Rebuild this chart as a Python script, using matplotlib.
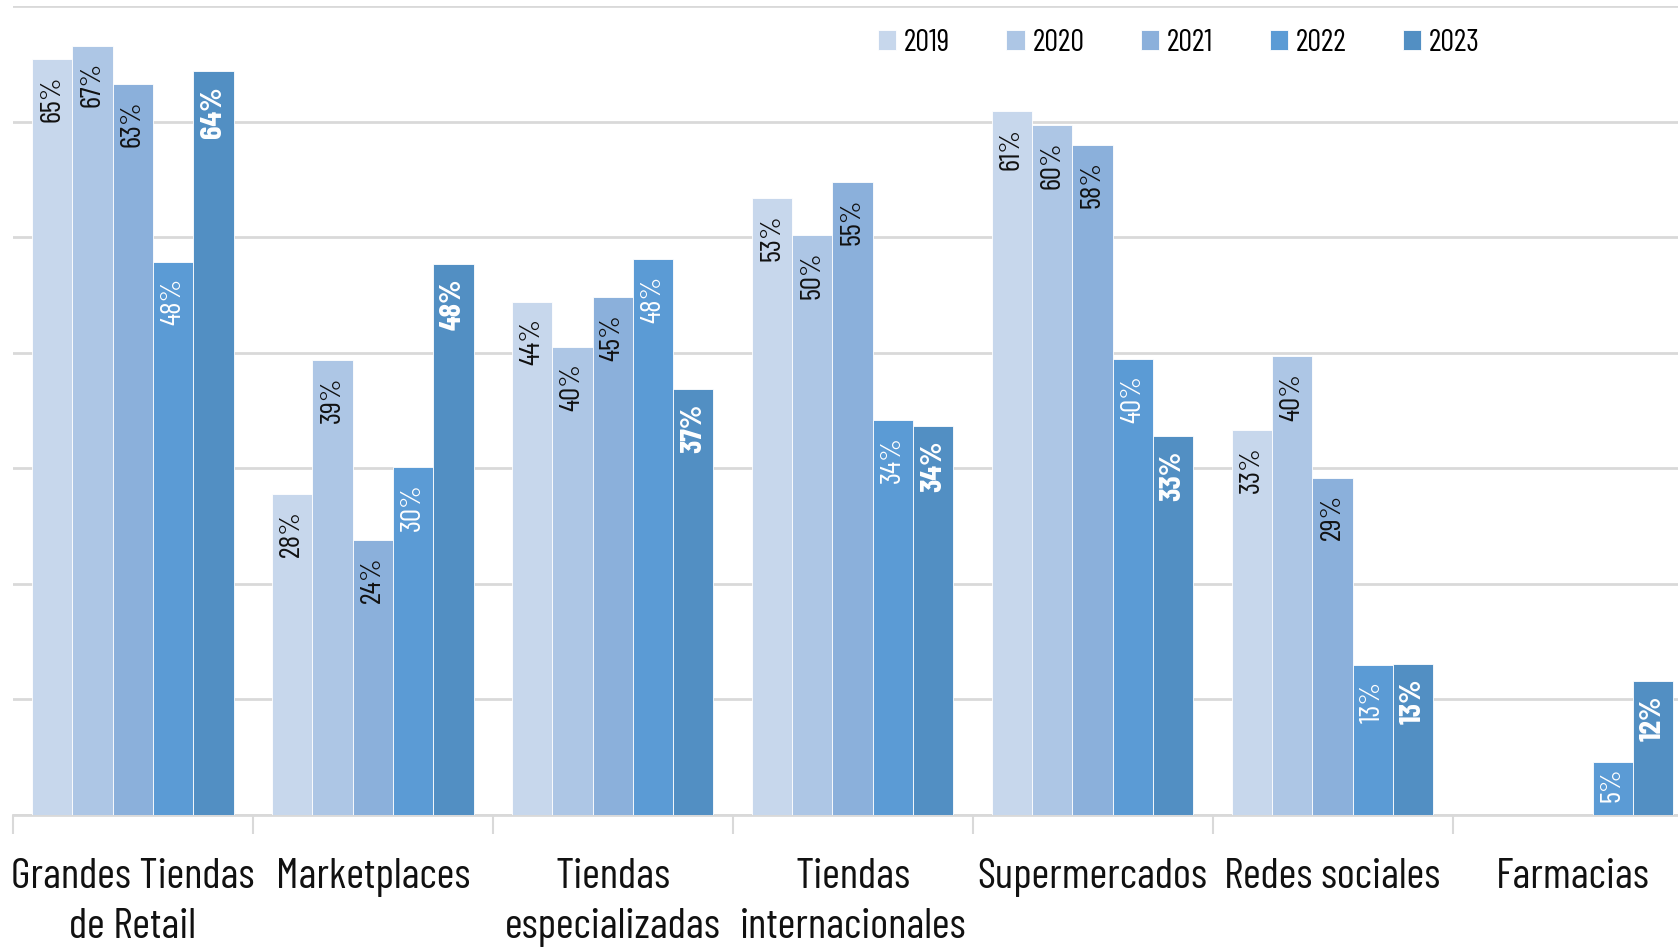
import matplotlib
matplotlib.use("Agg")
import matplotlib.pyplot as plt
import numpy as np

plt.rcParams['font.family'] = ['Barlow Condensed', 'DejaVu Sans']

categories = ['Grandes Tiendas\nde Retail', 'Marketplaces', 'Tiendas\nespecializadas',
              'Tiendas\ninternacionales', 'Supermercados', 'Redes sociales', 'Farmacias']
years = ['2019', '2020', '2021', '2022', '2023']

v2019 = [65.4, 27.8, 44.4, 53.4, 60.9, 33.3, 0]
v2020 = [66.6, 39.4, 40.5, 50.2, 59.7, 39.7, 0]
v2021 = [63.3, 23.8, 44.8, 54.8, 58.0, 29.2, 0]
v2022 = [47.9, 30.1, 48.1, 34.2, 39.5, 13.0, 4.6]
v2023 = [64.4, 47.7, 36.9, 33.7, 32.8, 13.1, 11.6]

l2019 = ['65%', '28%', '44%', '53%', '61%', '33%', '']
l2020 = ['67%', '39%', '40%', '50%', '60%', '40%', '']
l2021 = ['63%', '24%', '45%', '55%', '58%', '29%', '']
l2022 = ['48%', '30%', '48%', '34%', '40%', '13%', '5%']
l2023 = ['64%', '48%', '37%', '34%', '33%', '13%', '12%']

series = [v2019, v2020, v2021, v2022, v2023]
labels = [l2019, l2020, l2021, l2022, l2023]
colors = ['#C7D7EC', '#ADC6E5', '#8BB0DB', '#5B9BD5', '#528FC3']

fig = plt.figure(figsize=(16.78, 9.48), dpi=100)
ax = fig.add_axes([0.00763, 0.1403, 1.001, 0.853])

x = np.arange(len(categories))
w = 0.168
for i, (vals, labs) in enumerate(zip(series, labels)):
    pos = x + (i - 2) * w
    ax.bar(pos, vals, width=w, color=colors[i], edgecolor='white', linewidth=0.6,
           zorder=3, label=years[i])
    for p, v, t in zip(pos, vals, labs):
        if not t:
            continue
        # short bars: label sits closer to the top
        off = 0.5 if v < 8 else 1.4
        if i == 4:
            ax.text(p, v - 1.3, t, rotation=90, ha='center', va='top',
                    fontsize=22, fontweight='bold', color='white', zorder=4)
        elif i == 3:
            ax.text(p, v - off, t, rotation=90, ha='center', va='top',
                    fontsize=21, color='white', zorder=4)
        else:
            ax.text(p, v - off, t, rotation=90, ha='center', va='top',
                    fontsize=21, color='#111111', zorder=4)

ax.set_xlim(-0.5, 6.5)
ax.set_ylim(0, 70)
ax.set_yticks(np.arange(0, 71, 10))
ax.yaxis.grid(True, color='#D9D9D9', linewidth=2, zorder=0)
ax.tick_params(axis='y', left=False, labelleft=False)

ax.set_xticks(x)
ax.set_xticklabels(categories, fontsize=31, color='#111111', linespacing=1.36)
ax.tick_params(axis='x', which='major', length=0, pad=31)
ax.set_xticks(np.arange(-0.5, 7.0, 1), minor=True)
ax.tick_params(axis='x', which='minor', length=14, width=1.5, color='#D9D9D9')

for s in ['left', 'right', 'top']:
    ax.spines[s].set_visible(False)
ax.spines['bottom'].set_color('#D9D9D9')
ax.spines['bottom'].set_linewidth(2)

ax.legend(loc='center right', bbox_to_anchor=(0.8735, 0.955), ncol=5, frameon=False,
          prop={'size': 22}, handlelength=0.6, handleheight=0.6,
          handletextpad=0.26, columnspacing=1.84, borderaxespad=0, borderpad=0)

fig.savefig('out.png', dpi=100)
